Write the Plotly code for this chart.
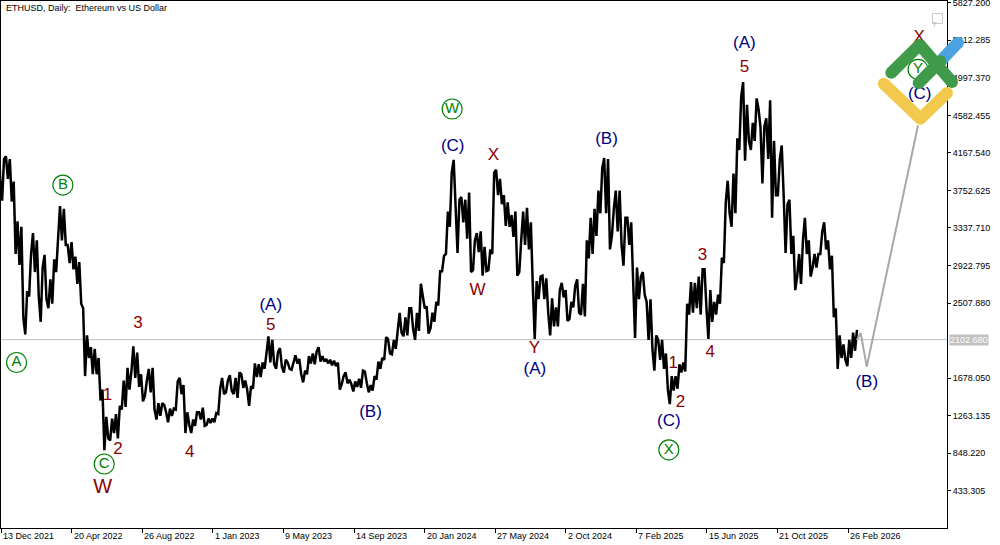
import pandas as pd
import plotly.graph_objects as go

# ---------------- data (ETHUSD daily, summarised as weekly high / low) ----------------
WEEK_START = "2021-12-06"  # Monday of the first week shown

high_2021 = [4420, 4100, 4130, 4100]
low_2021 = [3890, 3640, 3880, 3630]

high_2022 = [3850, 3410, 3350, 2640, 3050, 3280, 3200, 2900, 3040, 2770, 2990, 3300, 3580,
             3550, 3150, 3180, 3020, 2960, 2450, 2150, 2020, 2000, 1900, 1550, 1250, 1230,
             1280, 1370, 1650, 1790, 1750, 2030, 1960, 1720, 1650, 1780, 1790, 1400, 1400,
             1380, 1340, 1340, 1640, 1680, 1600, 1300, 1220, 1300, 1300, 1350, 1230, 1230]
low_2022 = [3050, 2930, 2350, 2160, 2580, 2850, 2580, 2300, 2550, 2450, 2500, 2850, 3200,
            3150, 2950, 2880, 2720, 2500, 1700, 1900, 1720, 1720, 1430, 880, 1010, 990,
            1070, 1010, 1330, 1360, 1550, 1680, 1580, 1420, 1480, 1520, 1330, 1220, 1260,
            1300, 1190, 1260, 1330, 1500, 1070, 1160, 1070, 1150, 1220, 1150, 1160, 1180]

high_2023 = [1290, 1560, 1680, 1650, 1710, 1680, 1740, 1720, 1650, 1590, 1840, 1830, 1850,
             1950, 2140, 2100, 1970, 2010, 1880, 1850, 1850, 1930, 1890, 1760, 1920, 1950,
             1970, 2020, 1920, 1890, 1880, 1870, 1850, 1700, 1740, 1660, 1640, 1670, 1760,
             1750, 1600, 1700, 1860, 1900, 2130, 2110, 2100, 2200, 2400, 2350, 2450, 2450]
low_2023 = [1190, 1280, 1500, 1520, 1540, 1500, 1460, 1570, 1550, 1370, 1560, 1690, 1690,
            1780, 1850, 1830, 1780, 1800, 1740, 1780, 1770, 1840, 1720, 1630, 1720, 1840,
            1830, 1860, 1860, 1840, 1820, 1810, 1550, 1610, 1620, 1610, 1530, 1580, 1570,
            1620, 1520, 1540, 1660, 1780, 1880, 1950, 1940, 2000, 2180, 2140, 2150, 2220]

high_2024 = [2400, 2720, 2600, 2470, 2400, 2520, 2860, 3030, 3520, 3950, 4090, 3650, 3680,
             3650, 3730, 3200, 3280, 3300, 3130, 3100, 3950, 3980, 3880, 3700, 3620, 3480,
             3520, 3200, 3520, 3560, 3400, 2750, 2800, 2810, 2780, 2560, 2460, 2650, 2730,
             2650, 2520, 2700, 2770, 2720, 3200, 3450, 3550, 3750, 4000, 4110, 4100, 3550, 3750]
low_2024 = [2100, 2200, 2450, 2170, 2230, 2300, 2480, 2860, 3050, 3350, 3570, 3060, 3400,
            3220, 2850, 2870, 3070, 2810, 2860, 2870, 3050, 3700, 3600, 3360, 3350, 3240,
            2810, 2850, 3150, 3100, 2700, 2110, 2550, 2550, 2400, 2150, 2250, 2250, 2570,
            2310, 2330, 2460, 2400, 2380, 2360, 3000, 3050, 3250, 3500, 3500, 3100, 3250, 3300]

high_2025 = [3750, 3450, 3450, 3400, 2900, 2800, 2850, 2520, 2550, 2150, 2100, 2100, 1950,
             1700, 1700, 1830, 1850, 2500, 2740, 2730, 2800, 2880, 2880, 2650, 2520, 2600,
             3010, 3620, 3860, 3940, 4330, 4790, 4950, 4700, 4500, 4770, 4650, 4460, 4550,
             4750, 4300, 4100, 4250, 3600, 3650, 3250, 3050, 3200, 3450, 3200, 3050, 3050]
low_2025 = [3150, 2920, 3150, 2750, 2120, 2550, 2600, 2100, 2000, 1760, 1880, 1780, 1550,
            1390, 1540, 1560, 1740, 1750, 2380, 2400, 2450, 2380, 2450, 2110, 2300, 2380,
            2500, 2950, 3500, 3350, 3500, 4200, 4080, 4300, 4200, 4300, 4450, 3830, 4100,
            3450, 3700, 3700, 3700, 3060, 3050, 2650, 2800, 2720, 3050, 2800, 2900, 2900]

high_2026 = [3300, 3400, 3200, 3030, 2450, 2150, 2050, 2100, 2180, 2210]
low_2026 = [3050, 3100, 2880, 2350, 1780, 1900, 1880, 1810, 1900, 1980]

weekly_high = high_2021 + high_2022 + high_2023 + high_2024 + high_2025 + high_2026
weekly_low = low_2021 + low_2022 + low_2023 + low_2024 + low_2025 + low_2026

current_price = 2102.68

# projected path drawn by the analyst (grey line)
proj_dates = ["2026-03-14", "2026-03-21", "2026-04-01", "2026-07-03"]
proj_values = [2100, 2175, 1805, 4473]

# axis labels
x_tick_dates = ["2021-12-13", "2022-04-20", "2022-08-26", "2023-01-01", "2023-05-09",
                "2023-09-14", "2024-01-20", "2024-05-27", "2024-10-02", "2025-02-07",
                "2025-06-15", "2025-10-21", "2026-02-26"]
x_tick_labels = ["13 Dec 2021", "20 Apr 2022", "26 Aug 2022", "1 Jan 2023", "9 May 2023",
                 "14 Sep 2023", "20 Jan 2024", "27 May 2024", "2 Oct 2024", "7 Feb 2025",
                 "15 Jun 2025", "21 Oct 2025", "26 Feb 2026"]
y_tick_values = [433.305, 848.220, 1263.135, 1678.050, 2507.880, 2922.795, 3337.710,
                 3752.625, 4167.540, 4582.455, 4997.370, 5412.285, 5827.200]

# Elliott-wave labels: (text, date, price)
circle_labels = [("A", "2022-01-10", 1850), ("B", "2022-04-04", 3812), ("C", "2022-06-18", 728),
                 ("W", "2024-03-10", 4653), ("X", "2025-04-07", 885), ("Y", "2026-07-03", 5090)]
blue_labels = [("(A)", "2023-04-16", 2478), ("(B)", "2023-10-14", 1300), ("(C)", "2024-03-11", 4238),
               ("(A)", "2024-08-07", 1771), ("(B)", "2024-12-15", 4317), ("(C)", "2025-04-07", 1199),
               ("(A)", "2025-08-22", 5371), ("(B)", "2026-04-01", 1625), ("(C)", "2026-07-06", 4810)]
red_labels = [("W", "2022-06-15", 459), ("1", "2022-06-24", 1480), ("2", "2022-07-13", 885),
              ("3", "2022-08-18", 2276), ("4", "2022-11-20", 852), ("5", "2023-04-16", 2253),
              ("W", "2024-04-25", 2646), ("X", "2024-05-24", 4137), ("Y", "2024-08-06", 2007),
              ("1", "2025-04-15", 1838), ("2", "2025-04-28", 1401), ("3", "2025-06-07", 3027),
              ("4", "2025-06-21", 1962), ("5", "2025-08-22", 5113), ("X", "2026-07-05", 5438)]

# ---------------- figure ----------------
FONT = "Liberation Sans, Arial, sans-serif"
W, H = 1000, 545
ML, MR, MT, MB = 1, 53, 1, 17
PW, PH = W - ML - MR, H - MT - MB

# each week is drawn as a stroke between its low and high (order follows the trend),
# giving a dense bar-like price trace
week_starts = pd.date_range(WEEK_START, periods=len(weekly_high), freq="7D")
px_x, px_y = [], []
for i, (d, hi, lo) in enumerate(zip(week_starts, weekly_high, weekly_low)):
    mid = (hi + lo) / 2
    nxt = (weekly_high[i + 1] + weekly_low[i + 1]) / 2 if i + 1 < len(weekly_high) else mid
    first, second = (lo, hi) if nxt >= mid else (hi, lo)
    px_x += [d + pd.Timedelta(hours=42), d + pd.Timedelta(hours=126)]
    px_y += [first, second]

fig = go.Figure()
fig.add_trace(go.Scatter(x=px_x, y=px_y, mode="lines",
                         line=dict(color="black", width=2.5), hoverinfo="skip", showlegend=False))
fig.add_trace(go.Scatter(x=pd.to_datetime(proj_dates), y=proj_values, mode="lines",
                         line=dict(color="#a8a8a8", width=2), hoverinfo="skip", showlegend=False))

# wave labels
fig.add_trace(go.Scatter(
    x=[d for _, d, _ in red_labels], y=[v for _, _, v in red_labels],
    text=[t for t, _, _ in red_labels], mode="text", textposition="middle center",
    textfont=dict(family=FONT, color="#8B0000",
                  size=[20 if i == 0 else 17 for i in range(len(red_labels))]),
    cliponaxis=False, hoverinfo="skip", showlegend=False))
fig.add_trace(go.Scatter(
    x=[d for _, d, _ in blue_labels], y=[v for _, _, v in blue_labels],
    text=[t for t, _, _ in blue_labels], mode="text", textposition="middle center",
    textfont=dict(family=FONT, color="#000080", size=17),
    cliponaxis=False, hoverinfo="skip", showlegend=False))
fig.add_trace(go.Scatter(
    x=[d for _, d, _ in circle_labels], y=[v for _, _, v in circle_labels],
    text=[t for t, _, _ in circle_labels], mode="markers+text", textposition="middle center",
    marker=dict(symbol="circle-open", size=20, color="#008000", line=dict(width=1.2)),
    textfont=dict(family=FONT, color="#008000", size=15),
    cliponaxis=False, hoverinfo="skip", showlegend=False))

# current price line + label
fig.add_shape(type="line", xref="paper", x0=0, x1=1, yref="y", y0=current_price, y1=current_price,
              line=dict(color="#c0c0c0", width=1), layer="below")
fig.add_annotation(xref="paper", x=1, xanchor="left", xshift=2, yref="y", y=current_price,
                   text=f"{current_price:.3f}", showarrow=False, bgcolor="#c0c0c0",
                   borderpad=0, font=dict(family=FONT, size=9, color="white"))

# date labels (left-aligned at their tick)
for d, lab in zip(x_tick_dates, x_tick_labels):
    fig.add_annotation(xref="x", x=d, xanchor="left", xshift=1, yref="paper", y=0,
                       yanchor="top", yshift=-2, text=lab, showarrow=False, borderpad=0,
                       font=dict(family=FONT, size=9, color="black"))

# title
fig.add_annotation(xref="paper", x=0, xanchor="left", xshift=4, yref="paper", y=1,
                   yanchor="top", yshift=-1, text="ETHUSD, Daily:\u00a0 Ethereum vs US Dollar",
                   showarrow=False, borderpad=0, font=dict(family=FONT, size=9, color="black"))


# ---- decorative logo (pixel placed) ----
def px(x):
    return (x - ML) / PW


def py(y):
    return (MT + PH - y) / PH


def stroke(points, color, w=12):
    for (x0, y0), (x1, y1) in zip(points[:-1], points[1:]):
        fig.add_shape(type="line", xref="paper", yref="paper", x0=px(x0), y0=py(y0),
                      x1=px(x1), y1=py(y1), line=dict(color=color, width=w), layer="above")
    r = w / 2
    for (x, y) in points:
        fig.add_shape(type="circle", xref="paper", yref="paper",
                      x0=px(x - r), x1=px(x + r), y0=py(y + r), y1=py(y - r),
                      fillcolor=color, line=dict(width=0), layer="above")


stroke([(883.7, 83.7), (920.3, 118.7), (947, 93)], "#f2c94c")
stroke([(940.3, 61.3), (958, 42.7)], "#4aa3e0")
stroke([(891.3, 72.7), (919.7, 44.7), (952, 82)], "#3f9a49")
stroke([(918.7, 83), (940.3, 61.3)], "#3f9a49")

# small "T" box
fig.add_shape(type="rect", xref="paper", yref="paper", x0=px(932.5), x1=px(942.5),
              y0=py(23.5), y1=py(13.5), line=dict(color="#c8c8c8", width=1), layer="above")
fig.add_annotation(xref="paper", yref="paper", x=px(937.5), y=py(18.5), text="T",
                   showarrow=False, font=dict(family=FONT, size=8, color="#b8b8b8"), borderpad=0)

fig.update_layout(
    width=W, height=H, autosize=False,
    margin=dict(l=ML, r=MR, t=MT, b=MB, autoexpand=False),
    paper_bgcolor="white", plot_bgcolor="white",
    showlegend=False,
    xaxis=dict(type="date", range=["2021-12-12 18:00", "2026-08-24 12:00"], automargin=False,
               showgrid=False, zeroline=False, showline=True, mirror=True,
               linecolor="black", linewidth=1, ticks="outside", ticklen=4,
               tickcolor="black", tickvals=x_tick_dates, showticklabels=False),
    yaxis=dict(range=[20.3, 5846.8], side="right", showgrid=False, zeroline=False,
               automargin=False, showline=True, mirror=True, linecolor="black", linewidth=1,
               ticks="outside", ticklen=3, tickcolor="black", ticklabeloverflow="allow",
               tickvals=y_tick_values, ticktext=[f"{v:.3f}" for v in y_tick_values],
               tickfont=dict(family=FONT, size=9, color="black")),
)

fig.write_html("out.html", config={"displayModeBar": False},
               post_script="document.body.style.margin='0px';document.body.style.overflow='hidden';")
